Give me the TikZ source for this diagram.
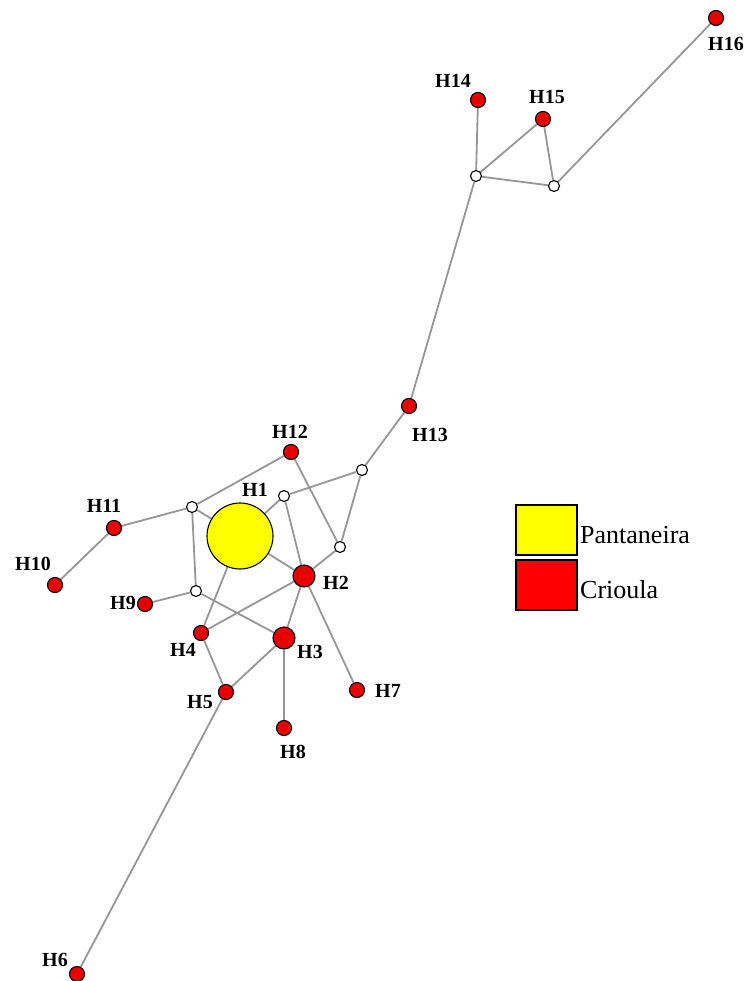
\documentclass[tikz,border=0pt]{standalone}
\usepackage{fontspec}
\setmainfont{Liberation Serif}
\usetikzlibrary{backgrounds}
\definecolor{hapred}{RGB}{232,0,0}
\definecolor{keyred}{RGB}{255,0,0}
\definecolor{hapyellow}{RGB}{255,255,0}
\definecolor{linkgray}{RGB}{150,150,150}
\tikzset{
  hap/.style={circle, draw=black, fill=hapred, line width=1.1pt, inner sep=0pt, minimum size=15pt},
  haplarge/.style={hap, minimum size=22pt},
  hapmain/.style={hap, fill=hapyellow, minimum size=66pt},
  median/.style={circle, draw=black, fill=white, line width=1.1pt, inner sep=0pt, minimum size=11pt},
  link/.style={draw=linkgray, line width=1.8pt},
  lab/.style={font=\fontsize{20}{24}\selectfont\bfseries, inner sep=0pt},
  keybox/.style={draw=black, line width=1.2pt, minimum width=61pt, minimum height=50pt, inner sep=0pt},
  keytext/.style={font=\fontsize{26}{30}\selectfont, anchor=west, inner sep=0pt}
}
\begin{document}
\begin{tikzpicture}[x=1pt,y=-1pt]
\useasboundingbox (0,0) rectangle (747,981);

% haplotypes
\node[hapmain]  (H1)  at (240,536) {};
\node[haplarge] (H2)  at (304,576) {};
\node[haplarge] (H3)  at (284,638) {};
\node[hap] (H4)  at (201,633) {};
\node[hap] (H5)  at (226,692) {};
\node[hap] (H6)  at (77,974) {};
\node[hap] (H7)  at (357,690) {};
\node[hap] (H8)  at (284,728) {};
\node[hap] (H9)  at (145,604) {};
\node[hap] (H10) at (55,585) {};
\node[hap] (H11) at (114,528) {};
\node[hap] (H12) at (291,452) {};
\node[hap] (H13) at (409,406) {};
\node[hap] (H14) at (478,100) {};
\node[hap] (H15) at (543,119) {};
\node[hap] (H16) at (716,18) {};

% median vectors
\node[median] (m1) at (284,496) {};
\node[median] (m2) at (192,507) {};
\node[median] (m3) at (362,470) {};
\node[median] (m4) at (340,547) {};
\node[median] (m5) at (196,591) {};
\node[median] (m6) at (476,176) {};
\node[median] (m7) at (554,186) {};

% labels
\node[lab] (tH1)  at (255,490) {H1};
\node[lab] (tH2)  at (336,583) {H2};
\node[lab] (tH3)  at (310,652) {H3};
\node[lab] (tH4)  at (183,650) {H4};
\node[lab] (tH5)  at (200,702) {H5};
\node[lab] (tH6)  at (55,960) {H6};
\node[lab] (tH7)  at (388,691) {H7};
\node[lab] (tH8)  at (293,752) {H8};
\node[lab] (tH9)  at (123,603) {H9};
\node[lab] (tH10) at (33,564) {H10};
\node[lab] (tH11) at (104,506) {H11};
\node[lab] (tH12) at (290,432) {H12};
\node[lab] (tH13) at (430,435) {H13};
\node[lab] (tH14) at (453,81) {H14};
\node[lab] (tH15) at (547,97) {H15};
\node[lab] (tH16) at (726,44) {H16};

% legend
\node[keybox, fill=hapyellow] (k1) at (546.5,530) {};
\node[keybox, fill=keyred]    (k2) at (546.5,585) {};
\node[keytext] (k1t) at (580,535) {Pantaneira};
\node[keytext] (k2t) at (580,590) {Crioula};

% network links
\begin{scope}[on background layer]
\path[link] (H16) -- (m7);
\path[link] (m7) -- (H15);
\path[link] (m7) -- (m6);
\path[link] (m6) -- (H15);
\path[link] (m6) -- (H14);
\path[link] (m6) -- (H13);
\path[link] (H13) -- (m3);
\path[link] (m3) -- (m1);
\path[link] (m3) -- (m4);
\path[link] (m4) -- (H2);
\path[link] (m4) -- (H12);
\path[link] (H12) -- (m2);
\path[link] (m2) -- (H1);
\path[link] (m2) -- (H11);
\path[link] (H11) -- (H10);
\path[link] (m2) -- (m5);
\path[link] (m5) -- (H9);
\path[link] (m5) -- (H3);
\path[link] (m1) -- (H1);
\path[link] (m1) -- (H2);
\path[link] (H1) -- (H2);
\path[link] (H1) -- (H4);
\path[link] (H2) -- (H4);
\path[link] (H2) -- (H3);
\path[link] (H2) -- (H7);
\path[link] (H3) -- (H8);
\path[link] (H3) -- (H5);
\path[link] (H4) -- (H5);
\path[link] (H5) -- (H6);
\end{scope}
\end{tikzpicture}
\end{document}
